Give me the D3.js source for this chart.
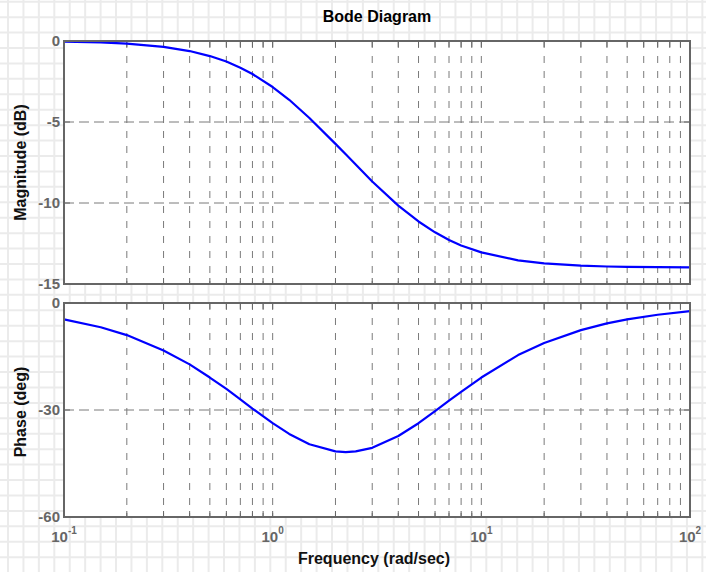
<!DOCTYPE html>
<html>
<head>
<meta charset="utf-8">
<script src="https://cdn.jsdelivr.net/npm/d3@7"></script>
<style>
html,body{margin:0;padding:0;background:#fff;}
svg{display:block;}
text{font-family:"Liberation Sans",Arial,sans-serif;font-weight:bold;}
</style>
</head>
<body>
<svg id="chart" width="706" height="572"></svg>
<script>
// ---- data ----
const freq      = [0.1, 0.15, 0.2, 0.3, 0.4, 0.5, 0.6, 0.7, 0.8, 1.0, 1.2, 1.5, 2.0, 2.24, 2.5, 3.0, 4.0, 5.0, 6.0, 7.0, 8.0, 10, 15, 20, 30, 40, 50, 70, 100];
const magnitude = [-0.04, -0.09, -0.16, -0.36, -0.62, -0.93, -1.27, -1.65, -2.04, -2.84, -3.63, -4.75, -6.35, -6.99, -7.63, -8.67, -10.16, -11.14, -11.81, -12.28, -12.62, -13.05, -13.54, -13.73, -13.87, -13.92, -13.94, -13.96, -13.97];
const phase     = [-4.6, -6.8, -9.0, -13.3, -17.2, -20.9, -24.1, -27.0, -29.6, -33.7, -36.7, -39.6, -41.6, -41.8, -41.6, -40.6, -37.3, -33.7, -30.3, -27.4, -24.9, -20.9, -14.6, -11.2, -7.6, -5.7, -4.6, -3.3, -2.3];
const magTicks  = [0, -5, -10, -15];
const phTicks   = [0, -30, -60];
const decades   = [-1, 0, 1, 2];
const title     = "Bode Diagram";
const magLabel  = "Magnitude (dB)";
const phLabel   = "Phase (deg)";
const xLabel    = "Frequency (rad/sec)";

const W = 706, H = 572;
const svg = d3.select("#chart");

// graph-paper background
const paper = svg.append("g");
const step = 15.43;
for (let x = 8; x < W; x += step)
  paper.append("line").attr("x1", x).attr("x2", x).attr("y1", 0).attr("y2", H)
    .attr("stroke", "#ebebeb").attr("stroke-width", 2);
for (let y = 1.7; y < H; y += step)
  paper.append("line").attr("x1", 0).attr("x2", W).attr("y1", y).attr("y2", y)
    .attr("stroke", "#ebebeb").attr("stroke-width", 2);

const L = 64, R = 690;
const x = d3.scaleLog().domain([0.1, 100]).range([L, R]);
const yMag = d3.scaleLinear().domain([-15, 0]).range([284, 41]);
const yPh  = d3.scaleLinear().domain([-60, 0]).range([517, 303]);

// all log grid positions
const xGrid = [];
decades.slice(0, -1).forEach(d => {
  for (let k = 1; k <= 9; k++) xGrid.push(k * Math.pow(10, d));
});
xGrid.push(100);

function panel(y, ticks, values) {
  const [y0, y1] = y.range(); // bottom, top
  const g = svg.append("g");
  g.append("rect").attr("x", L).attr("y", y1).attr("width", R - L).attr("height", y0 - y1)
    .attr("fill", "#fff");
  // vertical dashed grid
  g.selectAll(".vg").data(xGrid).join("line")
    .attr("x1", d => x(d)).attr("x2", d => x(d))
    .attr("y1", y1).attr("y2", y0)
    .attr("stroke", "#7a7a7a").attr("stroke-width", 1)
    .attr("stroke-dasharray", "7,8");
  // horizontal dashed grid
  g.selectAll(".hg").data(ticks).join("line")
    .attr("x1", L).attr("x2", R)
    .attr("y1", d => y(d)).attr("y2", d => y(d))
    .attr("stroke", "#7a7a7a").attr("stroke-width", 1)
    .attr("stroke-dasharray", "10,5");
  // inward ticks on x
  g.selectAll(".xtb").data(xGrid).join("line")
    .attr("x1", d => x(d)).attr("x2", d => x(d))
    .attr("y1", y0).attr("y2", y0 - 6)
    .attr("stroke", "#666").attr("stroke-width", 1);
  g.selectAll(".xtt").data(xGrid).join("line")
    .attr("x1", d => x(d)).attr("x2", d => x(d))
    .attr("y1", y1).attr("y2", y1 + 6)
    .attr("stroke", "#666").attr("stroke-width", 1);
  // inward ticks on y
  g.selectAll(".ytl").data(ticks).join("line")
    .attr("x1", L).attr("x2", L + 6)
    .attr("y1", d => y(d)).attr("y2", d => y(d))
    .attr("stroke", "#666").attr("stroke-width", 1);
  g.selectAll(".ytr").data(ticks).join("line")
    .attr("x1", R).attr("x2", R - 6)
    .attr("y1", d => y(d)).attr("y2", d => y(d))
    .attr("stroke", "#666").attr("stroke-width", 1);
  // curve
  const line = d3.line().x((d, i) => x(freq[i])).y(d => y(d));
  g.append("path").datum(values).attr("d", line)
    .attr("fill", "none").attr("stroke", "#0000ff").attr("stroke-width", 2.2)
    .attr("stroke-linejoin", "round");
  // box
  g.append("rect").attr("x", L).attr("y", y1).attr("width", R - L).attr("height", y0 - y1)
    .attr("fill", "none").attr("stroke", "#666").attr("stroke-width", 2);
  // y tick labels
  g.selectAll(".yl").data(ticks).join("text")
    .attr("x", L - 4).attr("y", d => y(d))
    .attr("dy", "0.35em").attr("text-anchor", "end")
    .attr("font-size", 15).attr("fill", "#666")
    .text(d => d);
}

panel(yMag, magTicks, magnitude);
panel(yPh, phTicks, phase);

// x tick labels 10^n
const xl = svg.append("g");
decades.forEach(d => {
  const t = xl.append("text").attr("x", x(Math.pow(10, d)))
    .attr("y", 542).attr("text-anchor", "middle").attr("fill", "#666").attr("font-size", 15);
  t.append("tspan").text("10");
  t.append("tspan").attr("font-size", 10).attr("dy", -8).text(d);
});

// titles
svg.append("text").attr("x", (L + R) / 2).attr("y", 22).attr("text-anchor", "middle")
  .attr("font-size", 16).attr("fill", "#000").text(title);
svg.append("text").attr("x", (L + R) / 2 - 3).attr("y", 564).attr("text-anchor", "middle")
  .attr("font-size", 16).attr("fill", "#111").text(xLabel);
svg.append("text").attr("transform", `translate(26,${(41 + 284) / 2}) rotate(-90)`)
  .attr("text-anchor", "middle").attr("font-size", 16).attr("fill", "#111").text(magLabel);
svg.append("text").attr("transform", `translate(26,${(303 + 517) / 2 + 2}) rotate(-90)`)
  .attr("text-anchor", "middle").attr("font-size", 16).attr("fill", "#111").text(phLabel);
</script>
</body>
</html>
